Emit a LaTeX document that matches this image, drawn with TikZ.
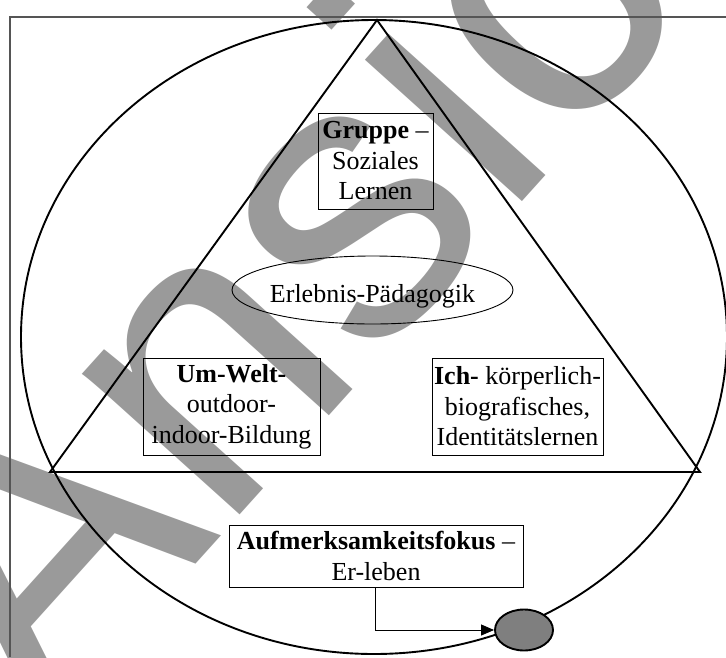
\documentclass[tikz,border=0pt]{standalone}
\usepackage{fontspec}
\setmainfont{Liberation Serif}
\newfontfamily\wmfont{Liberation Sans}
\usetikzlibrary{arrows.meta,shapes.geometric}
\definecolor{wmgray}{HTML}{9A9A9A}
\definecolor{framegray}{HTML}{555555}
\definecolor{dotgray}{HTML}{7F7F7F}
\tikzset{
  txtfont/.style={font=\fontsize{26}{30.5}\selectfont},
  txtbox/.style={draw=black, line width=0.9pt, align=center, inner sep=0pt, txtfont},
  bigline/.style={draw=black, line width=1.9pt},
  wmark/.style={text=wmgray, inner sep=0pt, font=\wmfont\fontsize{400}{400}\selectfont}
}
\begin{document}
\begin{tikzpicture}[x=1pt,y=-1pt]
\useasboundingbox (0,0) rectangle (726,657);
\clip (0,0) rectangle (726,657);
% watermark
\node[wmark, rotate=48, anchor=base west] (wm) at (43,734) {Ansicht};
% frame
\draw[framegray, line width=1.4pt] (726,17) -- (10,17) -- (10,657);
% outer ellipse
\draw[bigline] (374,337) ellipse [x radius=353pt, y radius=317pt];
% triangle
\coordinate (apex) at (377,20);
\coordinate (bl) at (50,472);
\coordinate (br) at (700,472);
\draw[bigline, line join=miter] (apex) -- (bl) -- (br) -- cycle;
% boxes
\node[txtbox, minimum width=115pt, minimum height=96pt] (gruppe) at (375.5,161)
  {\textbf{Gruppe} –\\Soziales\\Lernen};
\node[ellipse, draw=black, line width=0.9pt, minimum width=281pt, minimum height=68pt, inner sep=0pt] (erlshape) at (372.5,290) {};
\node[txtfont, inner sep=0pt, anchor=base] (erl) at (372.5,302.5) {Erlebnis-Pädagogik};
\node[txtbox, minimum width=177pt, minimum height=97pt] (umwelt) at (231.5,406.5)
  {\textbf{Um-Welt-}\\outdoor-\\indoor-Bildung};
\node[txtbox, minimum width=171pt, minimum height=97pt] (ich) at (517.5,406.5)
  {\textbf{Ich-} körperlich-\\biografisches,\\Identitätslernen};
\node[txtbox, minimum width=294pt, minimum height=62pt] (fokus) at (376,556)
  {\textbf{Aufmerksamkeitsfokus} –\\Er-leben};
% small ellipse
\node[ellipse, draw=black, line width=1.9pt, fill=dotgray, minimum width=58pt, minimum height=41pt, inner sep=0pt] (dot) at (524,630) {};
% arrow
\draw[line width=0.9pt, -{Triangle[length=13pt,width=11pt]}] (fokus.south -| 375,0) |- (dot.west);
\end{tikzpicture}
\end{document}
